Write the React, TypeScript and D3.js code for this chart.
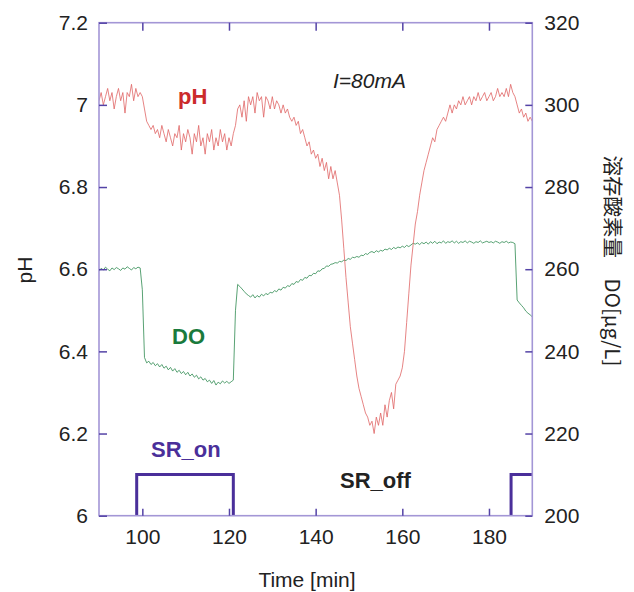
import React, { useRef, useEffect } from 'react';
import * as d3 from 'd3';

// sampled every 0.5 min starting at 90 min
const sampleStart = 90;
const sampleStep = 0.5;

const phValues = [
  7.01, 7.03, 7.00, 7.02, 7.04, 7.01, 7.03, 6.99, 7.02, 7.04,
  7.01, 7.03, 6.98, 7.03, 7.02, 7.05, 7.01, 7.04, 7.02, 7.03,
  7.02, 6.99, 6.96, 6.95, 6.94, 6.95, 6.93, 6.94, 6.92, 6.95,
  6.93, 6.91, 6.94, 6.92, 6.90, 6.93, 6.92, 6.95, 6.89, 6.93,
  6.91, 6.94, 6.92, 6.88, 6.93, 6.91, 6.95, 6.90, 6.92, 6.88,
  6.93, 6.91, 6.94, 6.89, 6.92, 6.90, 6.94, 6.91, 6.93, 6.89,
  6.92, 6.90, 6.93, 6.95, 6.99, 7.00, 6.97, 7.01, 6.96, 7.02,
  7.00, 7.02, 6.98, 7.03, 7.01, 7.02, 6.97, 7.02, 7.01, 6.99,
  7.02, 6.99, 7.01, 7.00, 6.98, 7.00, 6.98, 6.99, 6.97, 6.96,
  6.97, 6.95, 6.96, 6.93, 6.94, 6.92, 6.90, 6.91, 6.88, 6.89,
  6.87, 6.88, 6.85, 6.87, 6.84, 6.86, 6.82, 6.85, 6.82, 6.84,
  6.81, 6.78, 6.72, 6.65, 6.58, 6.52, 6.46, 6.42, 6.38, 6.34,
  6.31, 6.29, 6.27, 6.25, 6.24, 6.22, 6.23, 6.20, 6.24, 6.22,
  6.25, 6.22, 6.27, 6.24, 6.28, 6.30, 6.26, 6.32, 6.33, 6.34,
  6.36, 6.40, 6.47, 6.54, 6.61, 6.66, 6.71, 6.74, 6.78, 6.81,
  6.84, 6.86, 6.88, 6.90, 6.92, 6.91, 6.94, 6.95, 6.96, 6.97,
  6.96, 6.98, 7.00, 6.98, 7.00, 6.99, 7.01, 7.00, 7.02, 7.00,
  7.01, 7.02, 7.00, 7.02, 7.01, 7.03, 7.01, 7.02, 7.03, 7.01,
  7.02, 7.03, 7.01, 7.02, 7.04, 7.02, 7.03, 7.02, 7.04, 7.02,
  7.05, 7.03, 7.02, 7.00, 6.98, 6.99, 6.97, 6.98, 6.96, 6.97,
  6.96,
];

const doValues = [
  259.5, 260.2, 259.8, 260.5, 260.0, 259.6, 260.3, 259.9, 260.4, 260.1,
  259.7, 260.3, 260.0, 260.6, 260.2, 259.8, 260.4, 260.1, 260.5, 260.3,
  255.0, 238.5, 237.2, 237.6, 236.8, 237.3, 236.5, 237.0, 236.2, 236.8,
  235.9, 236.4, 235.5, 236.1, 235.2, 235.8, 234.9, 235.4, 234.6, 235.1,
  234.3, 234.9, 234.0, 234.5, 233.7, 234.2, 233.3, 233.8, 233.0, 233.4,
  232.6, 233.0, 232.2, 232.9, 231.8, 232.5, 232.1, 232.8, 232.3, 232.7,
  232.2, 232.6, 233.0, 250.0, 256.3, 255.8, 255.2, 254.6, 254.0, 253.6,
  253.2, 253.8, 253.0, 253.6, 253.2, 253.9, 253.5, 254.1, 253.8, 254.4,
  254.2, 254.8, 254.5, 255.2, 254.9, 255.6, 255.4, 256.0, 255.8, 256.5,
  256.3, 257.0, 256.8, 257.5, 257.3, 258.0, 257.8, 258.5, 258.4, 259.0,
  258.9, 259.6, 259.5, 260.1, 260.2, 260.8, 260.7, 261.2, 261.3, 261.6,
  261.5, 261.9, 261.8, 262.2, 262.1, 262.6, 262.4, 262.9, 262.8, 263.1,
  262.9, 263.4, 263.3, 263.8, 263.6, 264.1, 264.3, 264.0, 264.5, 264.2,
  264.6, 264.4, 264.9, 264.7, 265.1, 264.8, 265.3, 265.0, 265.4, 265.2,
  265.6, 265.3, 265.8, 265.5, 265.9, 266.3, 266.1, 266.4, 266.0, 266.5,
  266.2, 266.6, 266.1, 266.7, 266.3, 266.8, 266.2, 266.6, 266.4, 266.9,
  266.3, 266.7, 266.5, 266.9, 266.4, 266.8, 266.3, 266.7, 266.5, 266.9,
  266.4, 266.8, 266.6, 266.3, 266.7, 266.5, 266.9, 266.4, 266.6, 266.8,
  266.5, 266.7, 266.4, 266.8, 266.6, 266.3, 266.7, 266.5, 266.8, 266.4,
  266.6, 266.5, 266.2, 252.5, 251.8, 251.2, 250.6, 249.8, 249.3, 248.9,
  248.4,
];

// SR switching signal (pH axis units), null = gap
const srTimes = [98.7, 98.7, 121, 121, null, 185.1, 185.1, 190];
const srLevels = [6, 6.1, 6.1, 6, null, 6, 6.1, 6.1];

const timeTicks = [100, 120, 140, 160, 180];
const phTicks = [6, 6.2, 6.4, 6.6, 6.8, 7, 7.2];
const doTicks = [200, 220, 240, 260, 280, 300, 320];

const App = () => {
    const svgRef = useRef(null);

    useEffect(() => {
        const svg = d3.select(svgRef.current);
        svg.selectAll("*").remove();

        const width = 634;
        const height = 592;
        const left = 99, right = 532.3, top = 22.7, bottom = 515.7;
        const font = "'Liberation Sans', Arial, sans-serif";
        const frameColor = "#a396d6";
        const tickColor = "#5443a6";

        const x = d3.scaleLinear().domain([90, 190]).range([left, right]);
        const yPh = d3.scaleLinear().domain([6, 7.2]).range([bottom, top]);
        const yDo = d3.scaleLinear().domain([200, 320]).range([bottom, top]);

        svg.attr("width", width).attr("height", height)
            .attr("viewBox", [0, 0, width, height])
            .style("font-family", font);

        svg.append("clipPath").attr("id", "plot-clip")
            .append("rect")
            .attr("x", left).attr("y", top)
            .attr("width", right - left).attr("height", bottom - top);

        const t = (i) => sampleStart + i * sampleStep;

        const plot = svg.append("g").attr("clip-path", "url(#plot-clip)");

        // DO line
        plot.append("path")
            .datum(doValues)
            .attr("fill", "none")
            .attr("stroke", "#2e8a50")
            .attr("stroke-width", 0.8)
            .attr("d", d3.line().x((d, i) => x(t(i))).y(d => yDo(d)));

        // pH line
        plot.append("path")
            .datum(phValues)
            .attr("fill", "none")
            .attr("stroke", "#e06464")
            .attr("stroke-width", 0.8)
            .attr("d", d3.line().x((d, i) => x(t(i))).y(d => yPh(d)));

        // SR step
        const srData = srTimes.map((tm, i) => [tm, srLevels[i]]);
        svg.append("path")
            .datum(srData)
            .attr("fill", "none")
            .attr("stroke", "#4a2f9a")
            .attr("stroke-width", 3)
            .attr("d", d3.line()
                .defined(d => d[0] != null)
                .x(d => x(d[0]))
                .y(d => yPh(d[1])));

        // frame
        svg.append("rect")
            .attr("x", left).attr("y", top)
            .attr("width", right - left).attr("height", bottom - top)
            .attr("fill", "none")
            .attr("stroke", frameColor)
            .attr("stroke-width", 1.6);

        const styleAxis = (g) => {
            g.select(".domain").remove();
            g.selectAll(".tick line").attr("stroke", tickColor).attr("stroke-width", 1.5);
            g.selectAll(".tick text").attr("fill", "#222").style("font-size", "21px").style("font-family", font);
        };

        svg.append("g")
            .attr("transform", `translate(0,${bottom})`)
            .call(d3.axisBottom(x).tickValues(timeTicks).tickSize(-7).tickPadding(13).tickFormat(d3.format("d")))
            .call(styleAxis);

        svg.append("g")
            .attr("transform", `translate(0,${top})`)
            .call(d3.axisTop(x).tickValues(timeTicks).tickSize(-8).tickFormat(() => ""))
            .call(styleAxis);

        svg.append("g")
            .attr("transform", `translate(${left},0)`)
            .call(d3.axisLeft(yPh).tickValues(phTicks).tickSize(-8).tickPadding(11).tickFormat(d3.format("~g")))
            .call(styleAxis);

        svg.append("g")
            .attr("transform", `translate(${right},0)`)
            .call(d3.axisRight(yDo).tickValues(doTicks).tickSize(-7).tickPadding(12).tickFormat(d3.format("d")))
            .call(styleAxis);

        // axis titles
        svg.append("text")
            .attr("x", 307).attr("y", 587)
            .attr("text-anchor", "middle")
            .attr("fill", "#222")
            .style("font-size", "21px")
            .text("Time [min]");

        svg.append("text")
            .attr("transform", "translate(32,270) rotate(-90)")
            .attr("text-anchor", "middle")
            .attr("fill", "#222")
            .style("font-size", "21px")
            .text("pH");

        svg.append("text")
            .attr("transform", "translate(605,261) rotate(90)")
            .attr("text-anchor", "middle")
            .attr("fill", "#222")
            .style("font-size", "20.5px")
            .style("font-family", "'Noto Sans CJK JP', 'Liberation Sans', sans-serif")
            .text("溶存酸素量　DO[μg/L]");

        // annotations
        const note = (txt, px, py, color, opts = {}) => svg.append("text")
            .attr("x", px).attr("y", py)
            .attr("fill", color)
            .style("font-size", opts.size || "22px")
            .style("font-weight", opts.weight || "bold")
            .style("font-style", opts.italic ? "italic" : "normal")
            .text(txt);

        note("pH", 178, 104, "#cc2b2b");
        note("I=80mA", 333, 88, "#222", { weight: "normal", italic: true, size: "21px" });
        note("DO", 172, 344, "#1a7a3c");
        note("SR_on", 151, 457, "#4a2f9a");
        note("SR_off", 340, 488, "#222");

    }, []);

    return <svg ref={svgRef} style={{ position: "absolute", left: 0, top: 0 }}></svg>;
};

export default App;
